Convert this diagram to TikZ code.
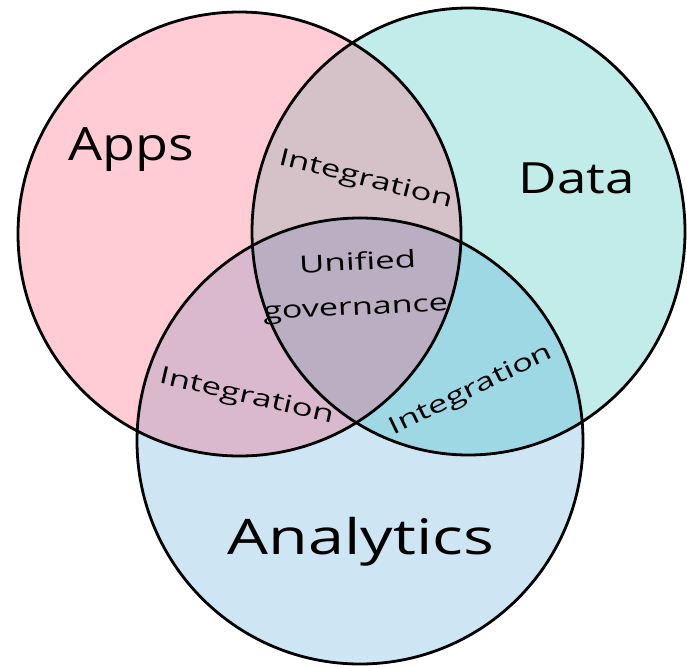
\documentclass[tikz,border=0pt]{standalone}
\usepackage{fontspec}
\setmainfont{Open Sans}
\definecolor{appsc}{RGB}{255,204,214}
\definecolor{datac}{RGB}{193,236,233}
\definecolor{analc}{RGB}{206,229,243}
\definecolor{pdc}{RGB}{213,193,200}
\definecolor{pac}{RGB}{218,185,206}
\definecolor{dac}{RGB}{157,216,228}
\definecolor{pdac}{RGB}{185,174,194}
\newcommand{\hsc}[2]{\scalebox{#1}[1]{#2}}
\tikzset{
  outline/.style={draw=black, line width=2.8pt},
  biglabel/.style={anchor=base, inner sep=0pt, font=\fontsize{46}{50}\selectfont},
  smalllabel/.style={anchor=base, inner sep=0pt, font=\fontsize{24}{28}\selectfont},
}
\begin{document}
\begin{tikzpicture}[x=1pt,y=-1pt]
\useasboundingbox (0,0) rectangle (687,667);
\clip (0,0) rectangle (687,667);
\def\AppsC{(239.5,234) ellipse [x radius=221.5pt, y radius=222pt]}
\def\DataC{(468.5,231.5) ellipse [x radius=216.5pt, y radius=223.5pt]}
\def\AnalC{(360,441) ellipse [x radius=223pt, y radius=223pt]}
% fills
\fill[appsc] \AppsC;
\fill[datac] \DataC;
\fill[analc] \AnalC;
\begin{scope}\clip \AppsC; \fill[pdc] \DataC; \end{scope}
\begin{scope}\clip \AppsC; \fill[pac] \AnalC; \end{scope}
\begin{scope}\clip \DataC; \fill[dac] \AnalC; \end{scope}
\begin{scope}\clip \AppsC; \clip \DataC; \fill[pdac] \AnalC; \end{scope}
% outlines
\draw[outline] \AppsC;
\draw[outline] \DataC;
\draw[outline] \AnalC;
% labels
\node[biglabel] (apps) at (131,160) {\hsc{1.17}{Apps}};
\node[biglabel, font=\fontsize{43}{47}\selectfont] (data) at (577,193) {\hsc{1.23}{Data}};
\node[biglabel, font=\fontsize{49}{53}\selectfont] (analytics) at (361,554) {\hsc{1.32}{Analytics}};
\node[smalllabel, rotate=-14] (intAD) at (364,186) {\hsc{1.45}{Integration}};
\node[smalllabel, rotate=-13] (intAA) at (245,403) {\hsc{1.45}{Integration}};
\node[smalllabel, rotate=26] (intDA) at (474,396) {\hsc{1.45}{Integration}};
\node[smalllabel, rotate=3] (unified) at (358,270) {\hsc{1.45}{Unified}};
\node[smalllabel, rotate=3] (governance) at (356,315) {\hsc{1.42}{governance}};
\end{tikzpicture}
\end{document}
